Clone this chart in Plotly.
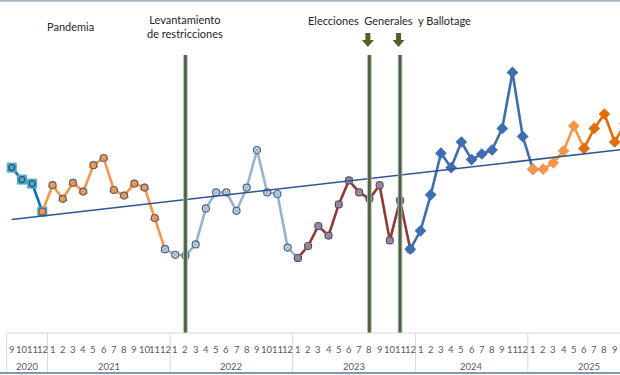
import plotly.graph_objects as go

# ---------------- data ----------------
year_months = {
    2020: [9, 10, 11, 12],
    2021: list(range(1, 13)),
    2022: list(range(1, 13)),
    2023: list(range(1, 13)),
    2024: [1, 2, 3, 4, 5, 6, 7, 8, 9, 11, 12],
    2025: list(range(1, 13)),
}

values_2020 = [37.8, 36.3, 35.8, 32.3]
values_2021 = [35.6, 33.9, 35.9, 34.8, 38.1, 39.0, 35.0, 34.3, 35.8, 35.3, 31.5, 27.6]
values_2022 = [26.9, 26.8, 28.2, 32.7, 34.7, 34.7, 32.4, 35.3, 40.0, 34.7, 34.5, 27.8]
values_2023 = [26.5, 28.0, 30.5, 29.3, 33.2, 36.2, 34.7, 33.9, 35.6, 28.7, 33.7, 27.6]
values_2024 = [29.9, 34.4, 39.6, 37.8, 41.0, 38.8, 39.5, 40.0, 42.7, 49.7, 41.7]
values_2025 = [37.6, 37.6, 38.4, 39.9, 43.0, 40.2, 42.7, 44.5, 41.0, 43.3, None, None]

# series segments (first and last category of each coloured stretch)
segments = [
    ("2020-09", "2020-12"),
    ("2020-12", "2021-12"),
    ("2021-12", "2023-01"),
    ("2023-01", "2023-12"),
    ("2023-12", "2025-01"),
    ("2025-01", "2025-06"),
    ("2025-06", "2025-12"),
]

trend_categories = ["2020-09", "2025-10"]
trend_values = [31.3, 40.1]

events = [("2022-02", "Levantamiento<br>de restricciones"), ("2023-08", ""), ("2023-11", "")]
arrow_categories = ["2023-08", "2023-11"]

# ---------------- build ----------------
categories = []
month_labels = []
years = []
for y, ms in year_months.items():
    for m in ms:
        categories.append(f"{y}-{m:02d}")
        month_labels.append(str(m))
        years.append(y)
values = values_2020 + values_2021 + values_2022 + values_2023 + values_2024 + values_2025
idx = {c: i for i, c in enumerate(categories)}

styles = [
    dict(line="#0070C0", m1=dict(symbol="square", size=9, color="#4BACC6", line=dict(color="#4BACC6", width=1)),
         m2=dict(symbol="circle", size=6, color="#4BACC6", line=dict(color="#2E4F7A", width=1.2))),
    dict(line="#F79646", m1=dict(symbol="triangle-up", size=9, color="#F79646"),
         m2=dict(symbol="circle", size=7, color="#F79646", line=dict(color="#4F6180", width=1.2))),
    dict(line="#95B3D7", m1=dict(symbol="circle", size=7, color="#C6D5EA", line=dict(color="#4F6180", width=1.2)),
         m2=dict(symbol="x-thin-open", size=6, color="#9AA5B5", line=dict(color="#9AA5B5", width=1))),
    dict(line="#953735", m1=dict(symbol="circle", size=7, color="#8497B8", line=dict(color="#3F5070", width=1.2)),
         m2=dict(symbol="x-thin-open", size=7, color="#E06060", line=dict(color="#E06060", width=1))),
    dict(line="#3F6DB1", m1=dict(symbol="diamond", size=9, color="#3F6DB1"), m2=None),
    dict(line="#F79646", m1=dict(symbol="diamond", size=9, color="#F79646"), m2=None),
    dict(line="#E46C0A", m1=dict(symbol="diamond", size=9, color="#E46C0A"), m2=None),
]

fig = go.Figure()

for (a, b), st in zip(segments, styles):
    xs = list(range(idx[a], idx[b] + 1))
    ys = [values[i] for i in xs]
    fig.add_trace(go.Scatter(x=xs, y=ys, mode="lines", line=dict(color=st["line"], width=2.6),
                             hoverinfo="skip"))
    fig.add_trace(go.Scatter(x=xs, y=ys, mode="markers", marker=st["m1"], hoverinfo="skip"))
    if st["m2"]:
        fig.add_trace(go.Scatter(x=xs, y=ys, mode="markers", marker=st["m2"], hoverinfo="skip"))

fig.add_trace(go.Scatter(x=[idx[c] for c in trend_categories], y=trend_values, mode="lines",
                         line=dict(color="#2F5597", width=1.5), hoverinfo="skip"))

W, H = 620, 375


def py(p):
    return 1 - p / H


shapes = []
annotations = []

# event lines
for c, label in events:
    x = idx[c]
    shapes.append(dict(type="line", xref="x", yref="paper", x0=x, x1=x, y0=py(55), y1=py(333),
                       line=dict(color="#9DB3CB", width=4.5)))
    shapes.append(dict(type="line", xref="x", yref="paper", x0=x, x1=x, y0=py(55), y1=py(333),
                       line=dict(color="#4F6228", width=2.6)))

# arrows
for c in arrow_categories:
    shapes.append(dict(type="path", xref="x", yref="paper", xsizemode="pixel", ysizemode="pixel",
                       xanchor=idx[c] - 0.15, yanchor=py(33),
                       path="M-2.5,0 L2.5,0 L2.5,-7 L6,-7 L0,-14 L-6,-7 L-2.5,-7 Z",
                       fillcolor="#4F6228", line=dict(width=0)))

# axis table
x_left = -0.5
x_right = len(categories) - 0.5
shapes.append(dict(type="line", xref="x", yref="paper", x0=x_left, x1=x_right, y0=py(333), y1=py(333),
                   line=dict(color="#D9D9D9", width=1)))
bounds = [x_left]
prev = years[0]
for i, y in enumerate(years):
    if y != prev:
        bounds.append(i - 0.5)
        prev = y
for b in bounds:
    shapes.append(dict(type="line", xref="x", yref="paper", x0=b, x1=b, y0=py(333), y1=py(372),
                       line=dict(color="#D9D9D9", width=1)))

# window borders
shapes.append(dict(type="line", xref="paper", yref="paper", x0=0, x1=1, y0=py(0.8), y1=py(0.8),
                   line=dict(color="#A9B4C6", width=2)))
shapes.append(dict(type="line", xref="paper", yref="paper", x0=0, x1=1, y0=py(373), y1=py(373),
                   line=dict(color="#8497B0", width=2)))

lab_font = dict(family="Lato, Liberation Sans, sans-serif", size=9.5, color="#595959")
for i, m in enumerate(month_labels):
    annotations.append(dict(x=i, y=py(349), xref="x", yref="paper", text=m, showarrow=False,
                            font=lab_font, xanchor="center", yanchor="middle"))
for y in year_months:
    ii = [i for i, yy in enumerate(years) if yy == y]
    annotations.append(dict(x=(ii[0] + ii[-1]) / 2, y=py(366.5), xref="x", yref="paper", text=str(y),
                            showarrow=False, font=lab_font, xanchor="center", yanchor="middle"))

title_font = dict(family="Lato, Liberation Sans, sans-serif", size=11, color="#262626")
annotations.append(dict(x=70.5 / W, y=py(26), xref="paper", yref="paper", text="Pandemia", showarrow=False,
                        font=title_font, xanchor="center", yanchor="middle"))
annotations.append(dict(x=idx["2022-02"], y=py(27), xref="x", yref="paper", text=events[0][1],
                        showarrow=False, font=title_font, xanchor="center", yanchor="middle"))
annotations.append(dict(x=389.5 / W, y=py(20.7), xref="paper", yref="paper",
                        text="Elecciones\u00a0\u00a0Generales\u00a0\u00a0y Ballotage",
                        showarrow=False, font=title_font, xanchor="center", yanchor="middle"))

# pixel mapping: x_px = 11.7 + i*10.22 ; value = 50 - (y_px-70)/8
x0_px, dx = 11.7, 10.22
fig.update_layout(
    width=W, height=H,
    margin=dict(l=0, r=0, t=0, b=0),
    paper_bgcolor="white", plot_bgcolor="white",
    showlegend=False,
    hovermode=False,
    xaxis=dict(visible=False, range=[-x0_px / dx, (W - x0_px) / dx]),
    yaxis=dict(visible=False, range=[50 - (H - 70) / 8, 50 + 70 / 8]),
    shapes=shapes,
    annotations=annotations,
)

fig.write_html("out.html", config={"displayModeBar": False, "staticPlot": True})

# remove default page margin so the figure sits at the window's top-left corner
with open("out.html", encoding="utf-8") as f:
    html = f.read()
html = html.replace("<head>", "<head><style>html,body{margin:0;padding:0;overflow:hidden;}</style>", 1)
with open("out.html", "w", encoding="utf-8") as f:
    f.write(html)
